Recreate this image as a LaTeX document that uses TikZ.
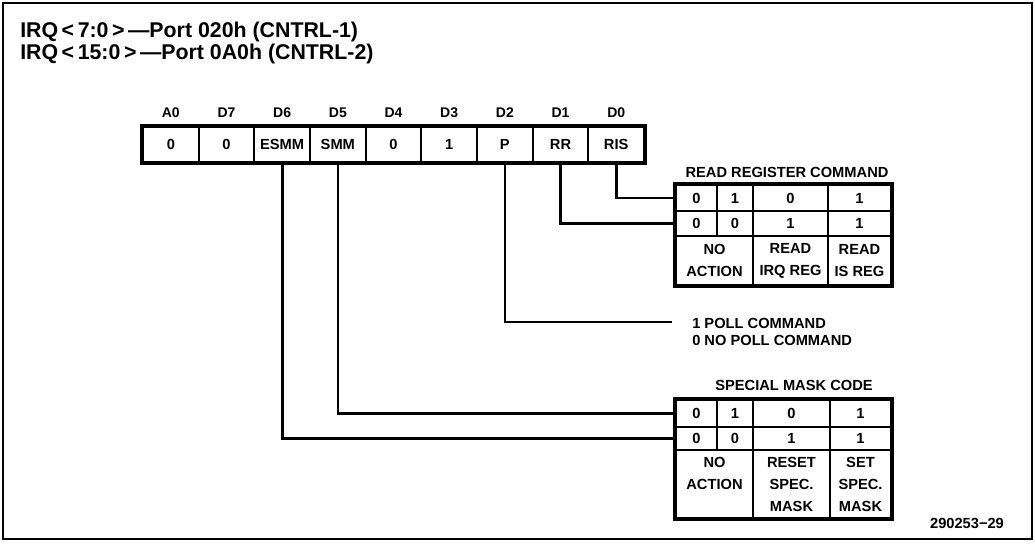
\documentclass[tikz,border=0pt]{standalone}
\usepackage{fontspec}
\setmainfont{Liberation Sans}
\newcommand\hdrfont{\fontsize{16}{18}\selectfont\bfseries}
\newcommand\smfont{\fontsize{11}{16.5}\selectfont\bfseries}
\newcommand\labfont{\fontsize{10.5}{12}\selectfont\bfseries}
\begin{document}
\begin{tikzpicture}[x=0.75pt,y=-0.75pt,
  conn/.style={line width=2pt},
  grid/.style={draw,line width=1.4pt},
  border/.style={line width=2.6pt},
  regcell/.style={grid,inner sep=0pt,minimum width=41.75pt,minimum height=26.25pt,font=\smfont},
  lab/.style={inner sep=0pt,font=\labfont},
  cellwh/.style 2 args={grid,inner sep=0pt,align=center,font=\smfont,minimum width=#1*0.75pt,minimum height=#2*0.75pt},
  txt/.style={inner sep=0pt,font=\smfont},
  hdr/.style={inner sep=0pt,anchor=west,font=\hdrfont}]
\useasboundingbox (0,0) rectangle (1035,543);
\draw[line width=1.2pt] (3,3) rectangle (1032,539);
% header
\node[hdr] (h1) at (20,32) {IRQ\,<\,7:0\,>\,---Port 020h (CNTRL-1)};
\node[hdr] (h2) at (20,54) {IRQ\,<\,15:0\,>\,---Port 0A0h (CNTRL-2)};
% register
\foreach \t/\l [count=\i from 0] in {0/A0,0/D7,ESMM/D6,SMM/D5,0/D4,1/D3,P/D2,RR/D1,RIS/D0}{
  \node[regcell] (r\i) at ({143+55.67*(\i+0.5)},144.5) {\t};
  \node[lab] (l\i) at ({143+55.67*(\i+0.5)},113) {\l};
}
\draw[border] (r0.north west) rectangle (r8.south east);
% table 1: read register command
\node[txt] (t1title) at (787,172) {READ REGISTER COMMAND};
\node[cellwh={41}{26}] (t1a) at (696.5,198) {0};
\node[cellwh={36}{26}] (t1b) at (735,198) {1};
\node[cellwh={75}{26}] (t1c) at (790.5,198) {0};
\node[cellwh={63}{26}] (t1d) at (859.5,198) {1};
\node[cellwh={41}{25}] (t1e) at (696.5,223.5) {0};
\node[cellwh={36}{25}] (t1f) at (735,223.5) {0};
\node[cellwh={75}{25}] (t1g) at (790.5,223.5) {1};
\node[cellwh={63}{25}] (t1h) at (859.5,223.5) {1};
\node[cellwh={77}{49}] (t1i) at (714.5,260.5) {NO\\ACTION};
\node[cellwh={75}{49}] (t1j) at (790.5,260.5) {READ\\IRQ REG};
\node[cellwh={63}{49}] (t1k) at (859.5,260.5) {READ\\IS REG};
\draw[border] (t1a.north west) rectangle (t1k.south east);
% table 2: special mask code
\node[txt] (t2title) at (794,385) {SPECIAL MASK CODE};
\node[cellwh={41}{27}] (t2a) at (696.5,413.5) {0};
\node[cellwh={36}{27}] (t2b) at (735,413.5) {1};
\node[cellwh={77}{27}] (t2c) at (791.5,413.5) {0};
\node[cellwh={61}{27}] (t2d) at (860.5,413.5) {1};
\node[cellwh={41}{23}] (t2e) at (696.5,438.5) {0};
\node[cellwh={36}{23}] (t2f) at (735,438.5) {0};
\node[cellwh={77}{23}] (t2g) at (791.5,438.5) {1};
\node[cellwh={61}{23}] (t2h) at (860.5,438.5) {1};
\node[cellwh={77}{68}] (t2i) at (714.5,484) {NO\\ACTION\\\mbox{}};
\node[cellwh={77}{68}] (t2j) at (791.5,484) {RESET\\SPEC.\\MASK};
\node[cellwh={61}{68}] (t2k) at (860.5,484) {SET\\SPEC.\\MASK};
\draw[border] (t2a.north west) rectangle (t2k.south east);
% poll text
\coordinate (pend) at (672,322);
\node[txt,anchor=west] (poll1) at (692,323) {1 POLL COMMAND};
\node[txt,anchor=west] (poll0) at (692,340) {0 NO POLL COMMAND};
% figure number
\node[txt] (fig) at (967,523) {290253−29};
% connectors
\draw[conn] (r8.south) |- (t1a.west);
\draw[conn] (r7.south) |- (t1e.west);
\draw[conn] (r6.south) |- (pend);
\draw[conn] (r3.south) |- (t2a.west);
\draw[conn] (r2.south) |- (t2e.west);
\end{tikzpicture}
\end{document}
